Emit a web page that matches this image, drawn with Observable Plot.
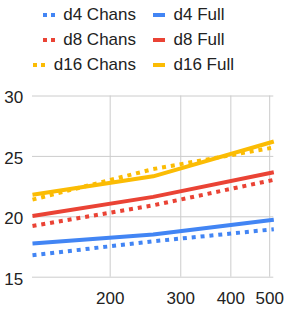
<!DOCTYPE html>
<html><head><meta charset="utf-8">
<script src="https://cdn.jsdelivr.net/npm/d3@7"></script>
<script src="https://cdn.jsdelivr.net/npm/@observablehq/plot@0.6"></script>
<style>
body{margin:0;background:#fff;font-family:Arial,"Liberation Sans",sans-serif;}
#legend{position:relative;height:80px;width:284px;}
.item{position:absolute;display:flex;align-items:center;height:25px;font-size:17px;color:#222;white-space:nowrap;}
.item svg{margin-right:8.5px;display:block;}
</style></head><body>
<div id="legend"></div><div id="chart"></div>
<script>
const xValues = [128, 256, 512];
const xTicks = [200, 300, 400, 500];
const yTicks = [15, 20, 25, 30];
const seriesNames = ["d4 Chans", "d4 Full", "d8 Chans", "d8 Full", "d16 Chans", "d16 Full"];
const seriesColors = ["#4285F4", "#4285F4", "#EA4335", "#EA4335", "#FBBC04", "#FBBC04"];
const seriesDashed = [true, false, true, false, true, false];
const d4Chans = [16.82, 17.97, 18.97];
const d4Full = [17.78, 18.53, 19.75];
const d8Chans = [19.24, 20.95, 23.06];
const d8Full = [20.07, 21.65, 23.69];
const d16Chans = [21.42, 23.95, 25.74];
const d16Full = [21.83, 23.35, 26.23];
const seriesValues = [d4Chans, d4Full, d8Chans, d8Full, d16Chans, d16Full];

// Legend
const legend = document.getElementById("legend");
seriesNames.forEach((name, i) => {
  const row = Math.floor(i / 2), col = i % 2;
  const item = document.createElement("div");
  item.className = "item";
  item.style.top = (row * 25 + 2) + "px";
  if (col === 0) item.style.right = (284 - 136) + "px"; else item.style.left = "153px";
  const c = seriesColors[i];
  const icon = seriesDashed[i]
    ? `<svg width="12" height="4"><rect x="0" y="0" width="4" height="4" fill="${c}"/><rect x="8" y="0" width="4" height="4" fill="${c}"/></svg>`
    : `<svg width="12" height="4"><rect x="0" y="0" width="12" height="4" fill="${c}"/></svg>`;
  item.innerHTML = icon + `<span>${name}</span>`;
  legend.appendChild(item);
});

const lineMarks = seriesValues.map((vals, i) =>
  Plot.line(xValues.map((x, j) => ({x, y: vals[j]})), {
    x: "x", y: "y", stroke: seriesColors[i], strokeWidth: 4,
    strokeDasharray: seriesDashed[i] ? "4,4.9" : null,
    strokeLinecap: "butt", strokeLinejoin: "round"
  })
);

const chart = Plot.plot({
  width: 284, height: 231,
  marginTop: 15.5, marginBottom: 34.3, marginLeft: 32, marginRight: 10.7,
  style: {fontFamily: 'Arial, "Liberation Sans", sans-serif', fontSize: "17px", color: "#222", background: "#fff", overflow: "visible"},
  x: {type: "log", domain: [128, 512], axis: null},
  y: {domain: [15, 30]},
  marks: [
    Plot.gridX(xTicks, {stroke: "#ccc", strokeOpacity: 1}),
    Plot.gridY(yTicks, {stroke: "#ccc", strokeOpacity: 1}),
    Plot.text(xTicks, {x: d => d, frameAnchor: "bottom", lineAnchor: "top", dy: 15, text: d => String(d), fill: "#222", fontSize: 17}),
    Plot.axisY(yTicks, {tickSize: 0, tickPadding: 9.3, label: null, dy: 2, tickFormat: d => String(d), fill: "#222"}),
    ...lineMarks
  ]
});
document.getElementById("chart").appendChild(chart);
</script>
</body></html>
